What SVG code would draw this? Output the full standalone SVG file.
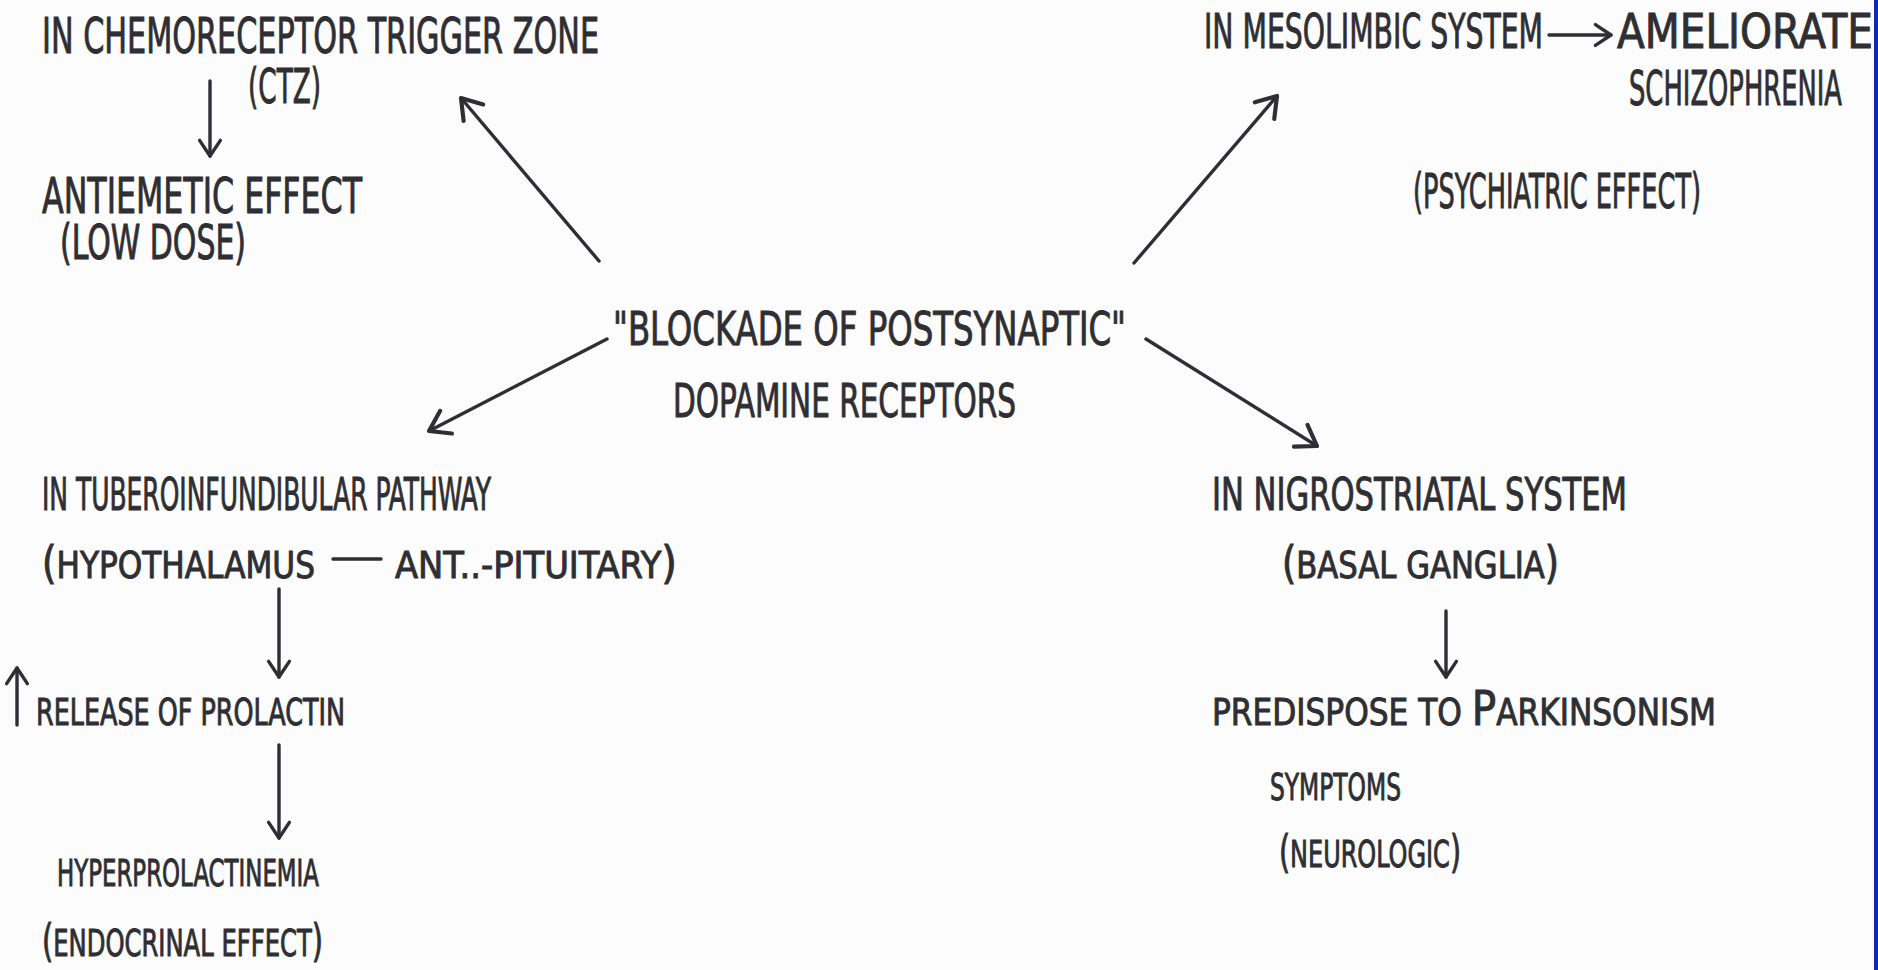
<svg xmlns="http://www.w3.org/2000/svg" width="1878" height="970" viewBox="0 0 1878 970">
<style>
.t{font-family:"Liberation Sans Narrow","DejaVu Sans Condensed","Liberation Sans",sans-serif;fill:#2e2e33;stroke:#2e2e33;stroke-width:0.9;}
.c{stroke:#2e2e33;stroke-width:3.4;fill:none;stroke-linecap:round;}
</style>
<defs>
<marker id="v" viewBox="0 0 20 20" refX="15" refY="10" markerWidth="32" markerHeight="32" markerUnits="userSpaceOnUse" orient="auto">
<path d="M3,2 L15,10 L3,18" fill="none" stroke="#2e2e33" stroke-width="2.6" stroke-linecap="round" stroke-linejoin="round"/>
</marker>
<marker id="vs" viewBox="0 0 20 20" refX="15" refY="10" markerWidth="26" markerHeight="26" markerUnits="userSpaceOnUse" orient="auto">
<path d="M3,2 L15,10 L3,18" fill="none" stroke="#2e2e33" stroke-width="2.6" stroke-linecap="round" stroke-linejoin="round"/>
</marker>
</defs>
<rect x="0" y="0" width="1878" height="970" fill="#fcfcfc"/>
<rect x="1874" y="0" width="4" height="970" fill="#0d2aa8"/>

<g id="center">
<text class="t" x="613" y="345" font-size="46" textLength="513" lengthAdjust="spacingAndGlyphs">"BLOCKADE OF POSTSYNAPTIC"</text>
<text class="t" x="673" y="417" font-size="46" textLength="343" lengthAdjust="spacingAndGlyphs">DOPAMINE RECEPTORS</text>
</g>

<g id="ctz">
<text class="t" x="42" y="53" font-size="50" textLength="557" lengthAdjust="spacingAndGlyphs">IN CHEMORECEPTOR TRIGGER ZONE</text>
<text class="t" x="248" y="103" font-size="48" textLength="73" lengthAdjust="spacingAndGlyphs">(CTZ)</text>
<text class="t" x="42" y="213" font-size="50" textLength="320" lengthAdjust="spacingAndGlyphs">ANTIEMETIC EFFECT</text>
<text class="t" x="60" y="259" font-size="48" textLength="186" lengthAdjust="spacingAndGlyphs">(LOW DOSE)</text>
</g>

<g id="mesolimbic">
<text class="t" x="1204" y="48" font-size="48" textLength="339" lengthAdjust="spacingAndGlyphs">IN MESOLIMBIC SYSTEM</text>
<text class="t" x="1617" y="48" font-size="48" textLength="256" lengthAdjust="spacingAndGlyphs">AMELIORATE</text>
<text class="t" x="1629" y="105" font-size="48" textLength="213" lengthAdjust="spacingAndGlyphs">SCHIZOPHRENIA</text>
<text class="t" x="1413" y="208" font-size="48" textLength="288" lengthAdjust="spacingAndGlyphs">(PSYCHIATRIC EFFECT)</text>
</g>

<g id="tuberoinfundibular">
<text class="t" x="42" y="510" font-size="44" textLength="449" lengthAdjust="spacingAndGlyphs">IN TUBEROINFUNDIBULAR PATHWAY</text>
<text class="t" x="42" y="578" font-size="37" textLength="273" lengthAdjust="spacingAndGlyphs"><tspan font-size="44">(</tspan>HYPOTHALAMUS</text>
<text class="t" x="395" y="578" font-size="37" textLength="282" lengthAdjust="spacingAndGlyphs">ANT..-PITUITARY<tspan font-size="44">)</tspan></text>
<text class="t" x="36" y="725" font-size="37" textLength="309" lengthAdjust="spacingAndGlyphs">RELEASE OF PROLACTIN</text>
<text class="t" x="57" y="886" font-size="37" textLength="262" lengthAdjust="spacingAndGlyphs">HYPERPROLACTINEMIA</text>
<text class="t" x="42" y="956" font-size="37" textLength="281" lengthAdjust="spacingAndGlyphs"><tspan font-size="44">(</tspan>ENDOCRINAL EFFECT<tspan font-size="44">)</tspan></text>
</g>

<g id="nigrostriatal">
<text class="t" x="1212" y="510" font-size="44" textLength="415" lengthAdjust="spacingAndGlyphs">IN NIGROSTRIATAL SYSTEM</text>
<text class="t" x="1282" y="578" font-size="37" textLength="277" lengthAdjust="spacingAndGlyphs"><tspan font-size="44">(</tspan>BASAL GANGLIA<tspan font-size="44">)</tspan></text>
<text class="t" x="1212" y="725" font-size="37" textLength="504" lengthAdjust="spacingAndGlyphs">PREDISPOSE TO <tspan font-size="48">P</tspan>ARKINSONISM</text>
<text class="t" x="1270" y="800" font-size="37" textLength="131" lengthAdjust="spacingAndGlyphs">SYMPTOMS</text>
<text class="t" x="1279" y="867" font-size="37" textLength="182" lengthAdjust="spacingAndGlyphs"><tspan font-size="44">(</tspan>NEUROLOGIC<tspan font-size="44">)</tspan></text>
</g>

<g id="connectors">
<line class="c" x1="599" y1="261" x2="461" y2="98" marker-end="url(#v)"/>
<line class="c" x1="1134" y1="263" x2="1277" y2="96" marker-end="url(#v)"/>
<line class="c" x1="607" y1="339" x2="429" y2="431" marker-end="url(#v)"/>
<line class="c" x1="1146" y1="339" x2="1317" y2="446" marker-end="url(#v)"/>
<line class="c" x1="210" y1="81" x2="210" y2="156" marker-end="url(#vs)"/>
<line class="c" x1="1549" y1="35" x2="1611" y2="35" marker-end="url(#vs)"/>
<line class="c" x1="333" y1="559" x2="381" y2="559"/>
<line class="c" x1="279" y1="589" x2="279" y2="677" marker-end="url(#vs)"/>
<line class="c" x1="279" y1="745" x2="279" y2="838" marker-end="url(#vs)"/>
<line class="c" x1="1446" y1="611" x2="1446" y2="677" marker-end="url(#vs)"/>
<line class="c" x1="17" y1="725" x2="17" y2="668" marker-end="url(#vs)"/>
</g>
</svg>
